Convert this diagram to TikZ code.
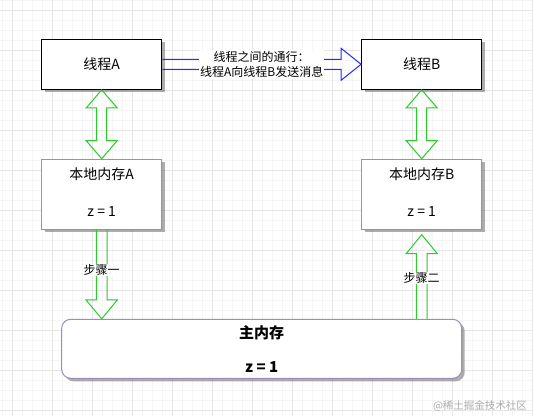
\documentclass[tikz,border=0pt]{standalone}
\usepackage{fontspec}
\setmainfont{Noto Sans CJK SC}
\usetikzlibrary{calc,shadows}
\definecolor{gridminor}{RGB}{245,245,245}
\definecolor{gridmajor}{RGB}{230,230,230}
\definecolor{memborder}{RGB}{160,140,182}
\definecolor{arrgreen}{RGB}{40,205,40}
\definecolor{arrblue}{RGB}{40,40,255}
\definecolor{wmgray}{RGB}{170,170,170}
\tikzset{
  boxshadow/.style={drop shadow={shadow xshift=3pt,shadow yshift=-3pt,opacity=.45,fill=black!70}},
  threadbox/.style={draw=black, line width=1.2pt, fill=white, minimum width=120pt, minimum height=50pt, inner sep=0pt, font=\fontsize{14}{16}\selectfont, boxshadow},
  membox/.style={draw=memborder, line width=1pt, fill=white, minimum width=120pt, minimum height=70pt, inner sep=0pt, boxshadow},
  mainbox/.style={draw=memborder, line width=1pt, fill=white, rounded corners=9pt, minimum width=400pt, minimum height=59pt, inner sep=0pt, boxshadow},
  boxtext/.style={font=\fontsize{14}{16}\selectfont, inner sep=0pt},
  boldtext/.style={font=\bfseries\fontsize{15}{17}\selectfont, inner sep=0pt},
  garrow/.style={draw=arrgreen, line width=1pt, line join=miter},
  barrow/.style={draw=arrblue, line width=1pt, line join=miter},
  steplabel/.style={font=\fontsize{12}{14}\selectfont, fill=white, inner sep=0.5pt},
  msglabel/.style={font=\fontsize{12}{15.5}\selectfont, fill=white, inner sep=1pt, align=center},
  wmark/.style={font=\fontsize{10.5}{12}\selectfont, text=wmgray, inner sep=0pt},
}
\begin{document}
\begin{tikzpicture}[x=1pt,y=-1pt]
\useasboundingbox (0,0) rectangle (533,416);
\fill[white] (0,0) rectangle (533,416);
% grid
\foreach \x in {2,12,...,532} \draw[gridminor, line width=0.8pt] (\x,0) -- (\x,416);
\foreach \y in {0,10,...,416} \draw[gridminor, line width=0.8pt] (0,\y) -- (533,\y);
\foreach \x in {12,52,...,532} \draw[gridmajor, line width=1pt] (\x,0) -- (\x,416);
\foreach \y in {10,50,...,416} \draw[gridmajor, line width=1pt] (0,\y) -- (533,\y);

% boxes
\node[threadbox] (tA) at (101.7,64.3) {线程A};
\node[threadbox] (tB) at (421.7,64.3) {线程B};
\node[membox] (lA) at (101.7,194.2) {};
\node[membox] (lB) at (421.7,194.2) {};
\node[mainbox] (main) at (261.7,348.8) {};

\node[boxtext] (lAt) at ($(lA.north)+(0,15)$) {本地内存A};
\node[boxtext] (lAz) at ($(lA.north)+(0,53)$) {z = 1};
\node[boxtext] (lBt) at ($(lB.north)+(0,15)$) {本地内存B};
\node[boxtext] (lBz) at ($(lB.north)+(0,53)$) {z = 1};
\node[boldtext] (mt) at ($(main.north)+(0,13.5)$) {主内存};
\node[boldtext] (mz) at ($(main.north)+(0,48)$) {z = 1};

% double arrows thread <-> local memory
\draw[garrow] (tA.south) -- ++(15.5,18) -- ++(-10.5,0) -- ($(lA.north)+(5,-18)$) -- ++(10.5,0) -- (lA.north) -- ++(-15.5,-18) -- ++(10.5,0) -- ($(tA.south)+(-5,18)$) -- ++(-10.5,0) -- cycle;
\draw[garrow] (tB.south) -- ++(15.5,18) -- ++(-10.5,0) -- ($(lB.north)+(5,-18)$) -- ++(10.5,0) -- (lB.north) -- ++(-15.5,-18) -- ++(10.5,0) -- ($(tB.south)+(-5,18)$) -- ++(-10.5,0) -- cycle;

% step 1: local A -> main
\coordinate (s1tip) at (lA.south |- main.north);
\draw[garrow] ($(lA.south)+(-5.3,0)$) -- ($(s1tip)+(-5.3,-19)$) -- ++(-10.5,0) -- (s1tip) -- ++(15.8,-19) -- ++(-10.5,0) -- ($(lA.south)+(5.3,0)$);
\node[steplabel] (s1) at ($(lA.south)!0.45!(s1tip)$) {步骤一};

% step 2: main -> local B
\coordinate (s2base) at (lB.south |- main.north);
\coordinate (s2tip) at ($(lB.south)+(0,5)$);
\draw[garrow] ($(s2base)+(-5.3,0)$) -- ($(s2tip)+(-5.3,19)$) -- ++(-10.3,0) -- (s2tip) -- ++(15.6,19) -- ++(-10.3,0) -- ($(s2base)+(5.3,0)$);
\node[steplabel] (s2) at ($(lB.south)!0.54!(s2base)$) {步骤二};

% blue arrow thread A -> thread B
\draw[barrow] ($(tA.east)+(0,-5)$) -- ($(tB.west)+(-20,-5)$) -- ++(0,-11) -- (tB.west) -- ++(-20,16) -- ++(0,-11) -- ($(tA.east)+(0,5)$);
\node[msglabel] (msg) at ($(tA.east)!0.5!(tB.west)$) {线程之间的通行：\\线程A向线程B发送消息};

% watermark
\node[wmark] (wm) at (480,406) {@稀土掘金技术社区};
\end{tikzpicture}
\end{document}
